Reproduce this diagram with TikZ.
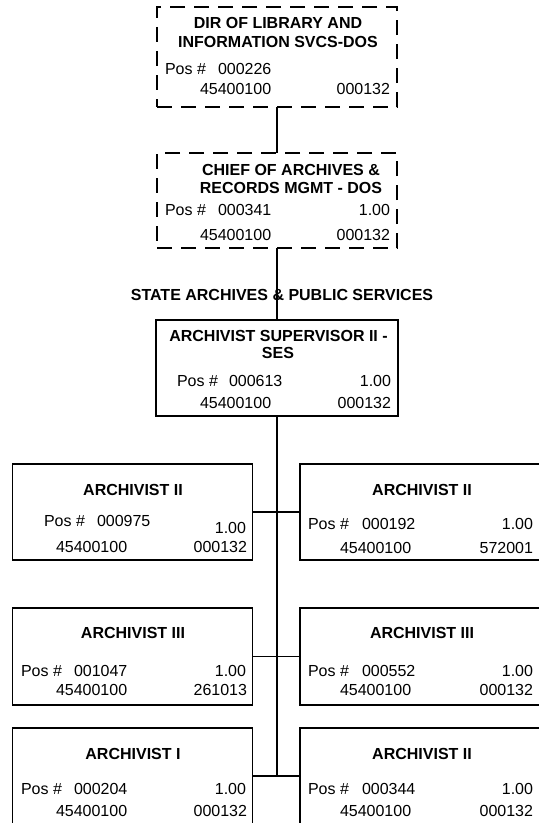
\documentclass[tikz,border=0pt]{standalone}
\usepackage{fontspec}
\setmainfont{Liberation Sans}
\begin{document}
\begin{tikzpicture}[x=1bp,y=-1bp,
  every node/.style={inner sep=0pt, outer sep=0pt, font=\fontsize{16bp}{19bp}\selectfont},
  posbox/.style={draw, line width=1.3bp, rectangle, minimum width=#1},
  vacant/.style={draw, line width=1.3bp, rectangle, dash pattern=on 15bp off 9bp, minimum width=#1},
  ttl/.style={anchor=base, font=\fontsize{16bp}{19bp}\selectfont\bfseries},
  lt/.style={anchor=base west},
  rt/.style={anchor=base east},
  link/.style={line width=1.1bp},
  trunk/.style={line width=2.2bp}]
\useasboundingbox (0,0) rectangle (539,823);

% upper chain of command (dashed = positions outside the unit)
\node[vacant=240bp, minimum height=100bp] (dir) at (277,57) {};
\node[vacant=240bp, minimum height=95bp] (chief) at (277,200.5) {};
\node[posbox=242bp, minimum height=96bp] (sup) at (277,368) {};

% subordinate positions
\node[posbox=240bp, minimum height=96bp] (l1) at (132.5,512) {};
\node[posbox=241bp, minimum height=96bp] (r1) at (420.5,512) {};
\node[posbox=240bp, minimum height=97bp] (l2) at (132.5,656.5) {};
\node[posbox=241bp, minimum height=97bp] (r2) at (420.5,656.5) {};
\node[posbox=240bp, minimum height=96bp] (l3) at (132.5,776) {};
\node[posbox=241bp, minimum height=96bp] (r3) at (420.5,776) {};

% connectors
\draw[link] (dir.south) -- (chief.north);
\draw[link] (chief.south) -- (sup.north);
\coordinate (tend) at (sup.south |- l3.east);
\draw[trunk] (sup.south) -- (tend);
\draw[link] (l1.east) -- (r1.west);
\draw[link] (l2.east) -- (r2.west);
\draw[link] (l3.east) -- (r3.west);

% unit label
\node[ttl] (unit) at (282,300) {STATE ARCHIVES \& PUBLIC SERVICES};

% DIR OF LIBRARY
\node[ttl] (dirt1) at (278,28) {DIR OF LIBRARY AND};
\node[ttl] (dirt2) at (278,47) {INFORMATION SVCS-DOS};
\node[lt] (dirp) at (165,74) {Pos \#};
\node[lt] (dirn) at (218,74) {000226};
\node[lt] (dira) at (200,94) {45400100};
\node[rt] (dirc) at (390,94) {000132};

% CHIEF OF ARCHIVES
\node[ttl] (cht1) at (291,175) {CHIEF OF ARCHIVES \&};
\node[ttl] (cht2) at (291,193) {RECORDS MGMT - DOS};
\node[lt] (chp) at (165,215) {Pos \#};
\node[lt] (chn) at (218,215) {000341};
\node[rt] (chf) at (390,215) {1.00};
\node[lt] (cha) at (200,240) {45400100};
\node[rt] (chc) at (390,240) {000132};

% ARCHIVIST SUPERVISOR
\node[ttl] (sut1) at (278.5,341) {ARCHIVIST SUPERVISOR II -};
\node[ttl] (sut2) at (278,358) {SES};
\node[lt] (sup1) at (177,386) {Pos \#};
\node[lt] (sun) at (229,386) {000613};
\node[rt] (suf) at (391,386) {1.00};
\node[lt] (sua) at (200,408) {45400100};
\node[rt] (suc) at (391,408) {000132};

% row 1
\node[ttl] (l1t) at (133,495) {ARCHIVIST II};
\node[lt] (l1p) at (44,526) {Pos \#};
\node[lt] (l1n) at (97,526) {000975};
\node[rt] (l1f) at (246,533) {1.00};
\node[lt] (l1a) at (56,552) {45400100};
\node[rt] (l1c) at (247,552) {000132};

\node[ttl] (r1t) at (422,495) {ARCHIVIST II};
\node[lt] (r1p) at (308,529) {Pos \#};
\node[lt] (r1n) at (362,529) {000192};
\node[rt] (r1f) at (533,529) {1.00};
\node[lt] (r1a) at (340,553) {45400100};
\node[rt] (r1c) at (533,553) {572001};

% row 2
\node[ttl] (l2t) at (133,638) {ARCHIVIST III};
\node[lt] (l2p) at (21,676) {Pos \#};
\node[lt] (l2n) at (74,676) {001047};
\node[rt] (l2f) at (246,676) {1.00};
\node[lt] (l2a) at (56,695) {45400100};
\node[rt] (l2c) at (247,695) {261013};

\node[ttl] (r2t) at (422,638) {ARCHIVIST III};
\node[lt] (r2p) at (308,676) {Pos \#};
\node[lt] (r2n) at (362,676) {000552};
\node[rt] (r2f) at (533,676) {1.00};
\node[lt] (r2a) at (340,695) {45400100};
\node[rt] (r2c) at (533,695) {000132};

% row 3
\node[ttl] (l3t) at (133,759) {ARCHIVIST I};
\node[lt] (l3p) at (21,794) {Pos \#};
\node[lt] (l3n) at (74,794) {000204};
\node[rt] (l3f) at (246,794) {1.00};
\node[lt] (l3a) at (56,816) {45400100};
\node[rt] (l3c) at (247,816) {000132};

\node[ttl] (r3t) at (422,759) {ARCHIVIST II};
\node[lt] (r3p) at (308,794) {Pos \#};
\node[lt] (r3n) at (362,794) {000344};
\node[rt] (r3f) at (533,794) {1.00};
\node[lt] (r3a) at (340,816) {45400100};
\node[rt] (r3c) at (533,816) {000132};
\end{tikzpicture}
\end{document}
